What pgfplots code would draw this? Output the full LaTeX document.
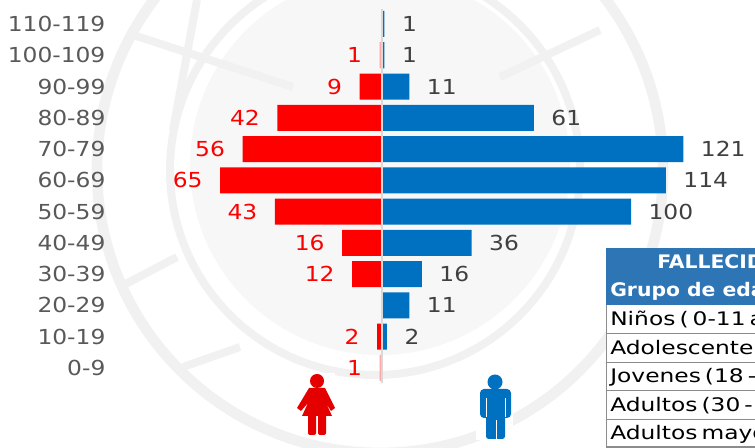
\documentclass[border=0pt]{standalone}
\usepackage{fontspec}
\usepackage{pgfplots}
\usepackage{pgfplotstable}
\pgfplotsset{compat=1.18}
\setmainfont{DejaVu Sans}[FakeStretch=1.13]
\newfontfamily\tablefont{DejaVu Sans}[FakeStretch=1.25,WordSpace=0.55]
\newfontfamily\headfont{DejaVu Sans Bold}[FakeStretch=1.09]
\definecolor{barred}{HTML}{FF0000}
\definecolor{barblue}{HTML}{0070C0}
\definecolor{headblue}{HTML}{2E75B6}
\definecolor{wm}{HTML}{F1F1F2}
\definecolor{wmdisc}{HTML}{F7F7F8}

\pgfplotstableread{
y n x
1 2 -2
3 12 -12
4 16 -16
5 43 -43
6 65 -65
7 56 -56
8 42 -42
9 9 -9
}\women
% the two single deaths show up as pale slivers
\pgfplotstableread{
y n x
0 1 -1
10 1 -1
}\womenone
\pgfplotstableread{
y n x
1 2 2
2 11 11
3 16 16
4 36 36
5 100 100
6 114 114
7 121 121
8 61 61
9 11 11
10 1 1
11 1 1
}\men

\begin{document}
\begin{tikzpicture}
\path[use as bounding box] (0,0) rectangle (566.25pt,336pt);
% faint emblem behind the chart, pixel coordinates
\begin{scope}[x=0.75pt,y=-0.75pt,yshift=336pt]
\clip (0,0) rectangle (755,448);
\fill[wmdisc] (380,165) circle (190);
\draw[wm,line width=8pt] (380,170) circle (283);
\draw[wm,line width=6pt] (375,170) circle (205);
\draw[wm,line width=6pt] (120,287) -- (177,257);
\draw[wm,line width=6pt] (183,367) -- (240,347);
\draw[wm,line width=6pt] (127,33) -- (293,87);
\draw[wm,line width=6pt] (500,77) -- (600,30);
\draw[wm,line width=6pt] (197,0) -- (173,130);
\end{scope}
\begin{axis}[
  scale only axis,
  width=566.25pt,
  height=336pt,
  xmin=-153.4, xmax=149.8,
  ymin=-2.558, ymax=11.767,
  axis line style={draw=none},
  tick style={draw=none},
  xtick=\empty,
  ytick={0,1,2,3,4,5,6,7,8,9,10,11},
  yticklabels={0-9,10-19,20-29,30-39,40-49,50-59,60-69,70-79,80-89,90-99,100-109,110-119},
  yticklabel style={anchor=east,inner sep=0pt,xshift=83.5pt,text=black!65,font=\fontsize{15.5}{18}\selectfont},
  xbar,
  bar shift=0pt,
  bar width=19.5pt,
  point meta=explicit symbolic,
  nodes near coords,
  clip=false,
]
\addplot[fill=barred,draw=none,
  every node near coord/.style={anchor=east,inner sep=0pt,xshift=-13pt,text=barred,font=\fontsize{15.5}{18}\selectfont}]
  table[x=x,y=y,meta=n] {\women};
\addplot[fill=barred!35,draw=none,
  every node near coord/.style={anchor=east,inner sep=0pt,xshift=-13pt,text=barred,font=\fontsize{15.5}{18}\selectfont}]
  table[x=x,y=y,meta=n] {\womenone};
\addplot[fill=barblue,draw=none,
  every node near coord/.style={anchor=west,inner sep=0pt,xshift=13pt,text=black!75,font=\fontsize{15.5}{18}\selectfont}]
  table[x=x,y=y,meta=n] {\men};
\addplot[sharp plot,draw=black!15,line width=1.5pt,forget plot,nodes near coords={}] coordinates {(0,-0.48) (0,11.48)};
\end{axis}
\begin{scope}[x=0.75pt,y=-0.75pt,yshift=336pt]
\clip (0,0) rectangle (755,448);
% woman icon
\fill[white] (296,373) rectangle (335,435);
\fill[red!90!black] (317,381) circle (7);
\fill[red!90!black] (309,388) -- (325,388) -- (335,408) -- (331,411) -- (326,403) -- (332,416) -- (302,416) -- (308,403) -- (301,411) -- (297,408) -- cycle;
\fill[red!90!black,rounded corners=1.5pt] (308,414) rectangle (316,435);
\fill[red!90!black,rounded corners=1.5pt] (318,414) rectangle (326,435);
% man icon
\fill[white] (476,373) rectangle (513,440);
\fill[barblue] (495,382) circle (7.5);
\fill[barblue,rounded corners=3pt] (480,389) rectangle (511,418);
\fill[barblue,rounded corners=2pt] (486,400) rectangle (505,439);
\draw[white,line width=0.5pt] (486,398) -- (486,417) (505,398) -- (505,417) (496,420) -- (496,439);
% table
\fill[white] (606,248) rectangle (755,447);
\fill[headblue] (606,248) rectangle (755,305);
\draw[black!45,line width=0.75pt] (606,305) -- (606,447);
\foreach \yy in {333.3,362.7,390.7,419}
  \draw[black!45,line width=0.6pt] (606,\yy) -- (755,\yy);
\draw[black!45,line width=1.5pt] (606,447) -- (755,447);
\node[anchor=base west,inner sep=0pt,text=white,font=\headfont\fontsize{14}{17}\selectfont] at (657,269) {FALLECID};
\node[anchor=base west,inner sep=0pt,text=white,font=\headfont\fontsize{14}{17}\selectfont] at (610,297) {Grupo de eda};
\node[anchor=base west,inner sep=0pt,text=black,font=\tablefont\fontsize{14}{17}\selectfont] at (610,326) {Niños ( 0-11 a};
\node[anchor=base west,inner sep=0pt,text=black,font=\tablefont\fontsize{14}{17}\selectfont] at (610,355) {Adolescente};
\node[anchor=base west,inner sep=0pt,text=black,font=\tablefont\fontsize{14}{17}\selectfont] at (610,383) {Jovenes (18 -};
\node[anchor=base west,inner sep=0pt,text=black,font=\tablefont\fontsize{14}{17}\selectfont] at (610,412) {Adultos (30 -};
\node[anchor=base west,inner sep=0pt,text=black,font=\tablefont\fontsize{14}{17}\selectfont] at (610,440) {Adultos mayo};
\end{scope}
\end{tikzpicture}
\end{document}
